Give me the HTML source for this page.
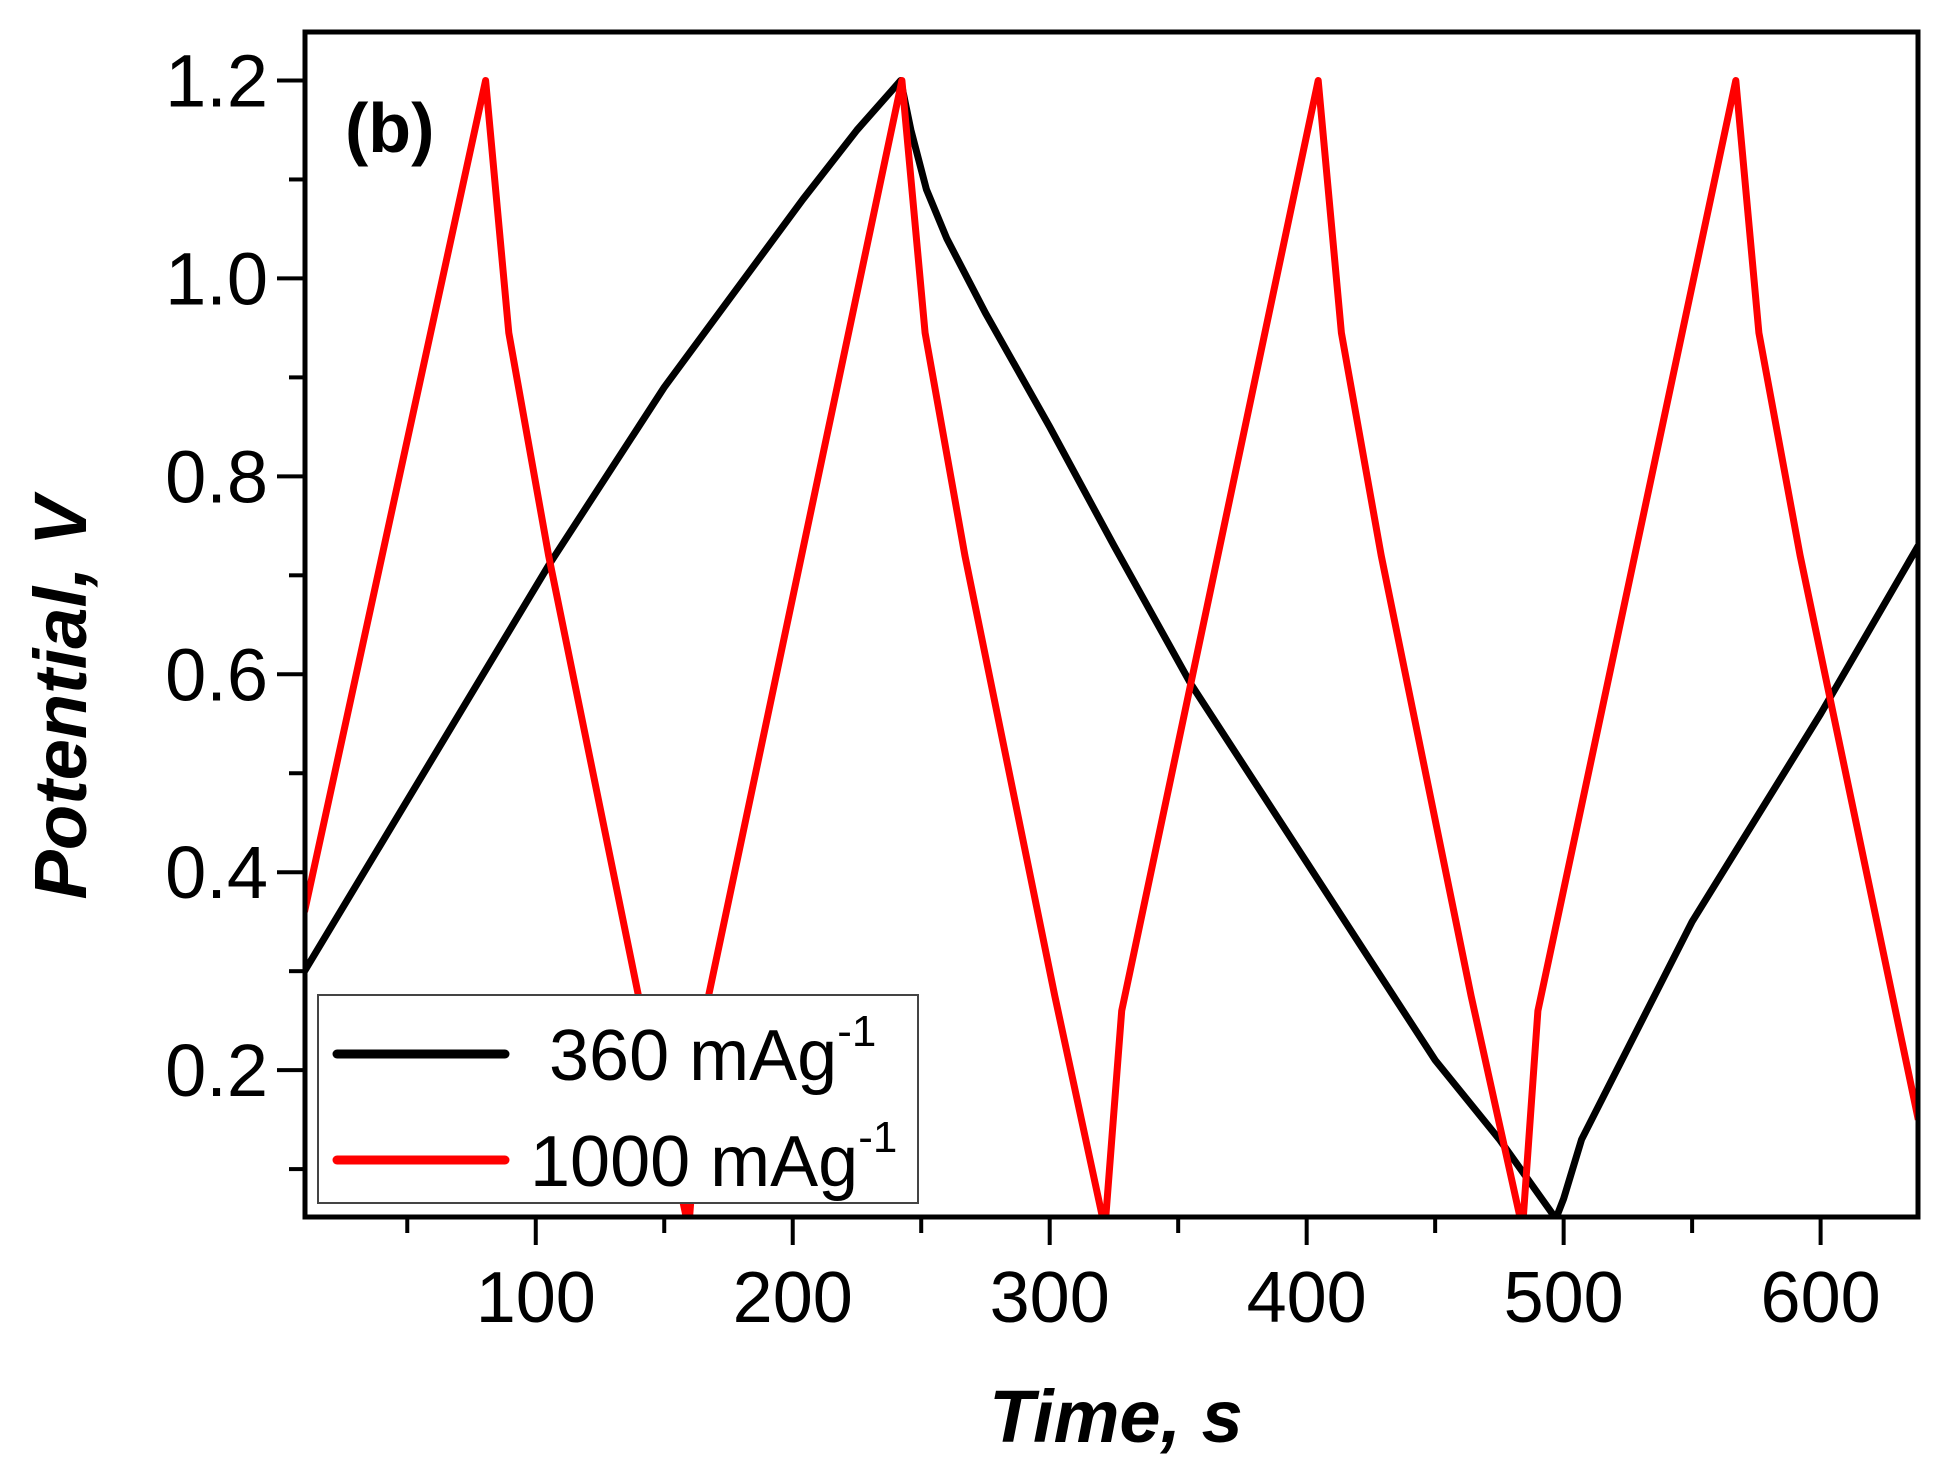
<!DOCTYPE html>
<html><head><meta charset="utf-8"><style>
html,body{margin:0;padding:0;background:#fff;}
svg{display:block;}
text{font-family:"Liberation Sans",Arial,sans-serif;}
</style></head><body>
<svg id="chart" width="1954" height="1474" viewBox="0 0 1954 1474" xmlns="http://www.w3.org/2000/svg">
<defs><clipPath id="clip"><rect x="305" y="32" width="1613" height="1185"/></clipPath></defs>
<g id="series" clip-path="url(#clip)"></g>
<g id="axes"></g>
<g id="legend">
  <rect x="318" y="995" width="600" height="208" fill="#fff" stroke="#444" stroke-width="2"/>
  <line x1="337" y1="1054" x2="505" y2="1054" stroke="#000" stroke-width="9" stroke-linecap="round"/>
  <text x="549" y="1080" font-size="72">360 mAg<tspan dy="-34" font-size="44">-1</tspan></text>
  <line x1="337" y1="1160" x2="505" y2="1160" stroke="#f00" stroke-width="9" stroke-linecap="round"/>
  <text x="530" y="1186" font-size="72">1000 mAg<tspan dy="-34" font-size="44">-1</tspan></text>
</g>
<text x="345" y="152" font-size="70" font-weight="bold">(b)</text>
<text x="1116" y="1442" font-size="74" font-weight="bold" font-style="italic" text-anchor="middle">Time, s</text>
<text x="0" y="0" font-size="74" font-weight="bold" font-style="italic" text-anchor="middle" transform="translate(86,698) rotate(-90)">Potential, V</text>
</svg>
<script>
const blackT = [10, 105, 150, 204, 225, 242, 246, 252, 260, 275, 300, 325, 355, 375, 400, 425, 450, 475, 497, 500, 507, 550, 600, 638];
const blackV = [0.30, 0.71, 0.89, 1.08, 1.15, 1.20, 1.15, 1.09, 1.04, 0.965, 0.85, 0.73, 0.59, 0.51, 0.41, 0.31, 0.21, 0.13, 0.05, 0.07, 0.13, 0.35, 0.56, 0.73];
const redT = [10, 80.5, 89.5, 105, 140, 159.5, 166, 242.5, 251.5, 267, 302, 321.5, 328, 404.5, 413.5, 429, 464, 484, 490, 567, 576, 592, 638];
const redV = [0.36, 1.20, 0.945, 0.72, 0.275, 0.04, 0.26, 1.20, 0.945, 0.72, 0.275, 0.04, 0.26, 1.20, 0.945, 0.72, 0.275, 0.04, 0.26, 1.20, 0.945, 0.72, 0.15];
const xMajor = [100, 200, 300, 400, 500, 600];
const xMinor = [50, 150, 250, 350, 450, 550];
const yMajor = [0.2, 0.4, 0.6, 0.8, 1.0, 1.2];
const yMinor = [0.1, 0.3, 0.5, 0.7, 0.9, 1.1];

const X0=305, X1=1918, Y0=1217, Y1=32;
const xMin=10.2, xMax=637.9, yMin=0.0516, yMax=1.249;
function sx(t){return X0+(t-xMin)/(xMax-xMin)*(X1-X0);}
function sy(v){return Y0-(v-yMin)/(yMax-yMin)*(Y0-Y1);}
const NS="http://www.w3.org/2000/svg";
function mk(tag,attrs,parent){const e=document.createElementNS(NS,tag);for(const k in attrs)e.setAttribute(k,attrs[k]);parent.appendChild(e);return e;}

const series=document.getElementById('series');
function drawLine(ts,vs,color,name){
  const d=ts.map((t,i)=>(i?'L':'M')+sx(t).toFixed(1)+','+sy(vs[i]).toFixed(1)).join(' ');
  const p=mk('path',{d:d,fill:'none',stroke:color,'stroke-width':7,'stroke-linejoin':'round'},series);
  
  
}
drawLine(blackT,blackV,'#000','series-360-mAg');
drawLine(redT,redV,'#f00','series-1000-mAg');

const axes=document.getElementById('axes');
const frame=mk('rect',{x:X0,y:Y1,width:X1-X0,height:Y0-Y1,fill:'none',stroke:'#000','stroke-width':5},axes);


xMajor.forEach(t=>{
  const l=mk('line',{x1:sx(t),x2:sx(t),y1:Y0,y2:Y0+28,stroke:'#000','stroke-width':4},axes);
  
  
  const tx=mk('text',{x:sx(t),y:1322,'font-size':72,'text-anchor':'middle'},axes);
  tx.textContent=t;
  
  
});
xMinor.forEach(t=>{
  const l=mk('line',{x1:sx(t),x2:sx(t),y1:Y0,y2:Y0+16,stroke:'#000','stroke-width':4},axes);
  
  
});
yMajor.forEach(v=>{
  const l=mk('line',{x1:X0-28,x2:X0,y1:sy(v),y2:sy(v),stroke:'#000','stroke-width':4},axes);
  
  
  const tx=mk('text',{x:268,y:sy(v)+26,'font-size':74,'text-anchor':'end'},axes);
  tx.textContent=v.toFixed(1);
  
  
});
yMinor.forEach(v=>{
  const l=mk('line',{x1:X0-16,x2:X0,y1:sy(v),y2:sy(v),stroke:'#000','stroke-width':4},axes);
  
  
});
</script>
</body></html>
